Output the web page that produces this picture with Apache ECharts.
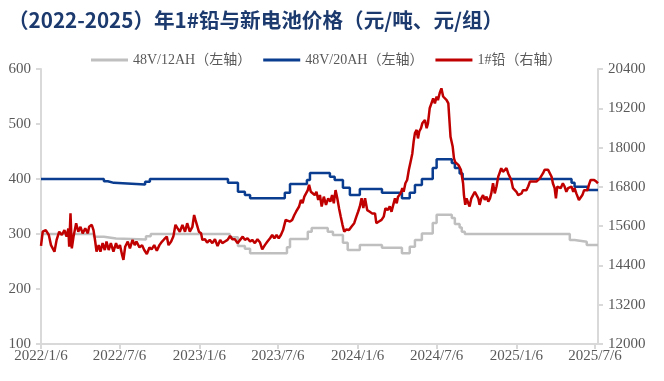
<!DOCTYPE html>
<html>
<head>
<meta charset="utf-8">
<script src="https://cdn.jsdelivr.net/npm/echarts@6/dist/echarts.min.js"></script>
<style>
html,body{margin:0;padding:0;background:#fff;}
#chart{width:664px;height:381px;}
</style>
</head>
<body>
<div id="chart"></div>
<script>
// ---- data ----
const startDay = '2022/1/6';
const endDay = '2025/7/13';
const tickLabels = ['2022/1/6','2022/7/6','2023/1/6','2023/7/6','2024/1/6','2024/7/6','2025/1/6','2025/7/6'];

const leadDates = [
'2022/1/6','2022/1/10','2022/1/17','2022/1/24','2022/1/29','2022/2/6','2022/2/11','2022/2/17','2022/2/23','2022/3/1',
'2022/3/6','2022/3/10','2022/3/12','2022/3/15','2022/3/18','2022/3/22','2022/3/28','2022/4/2','2022/4/7','2022/4/12',
'2022/4/18','2022/4/24','2022/4/27','2022/5/3','2022/5/7','2022/5/11','2022/5/14','2022/5/19','2022/5/23','2022/5/28',
'2022/6/2','2022/6/6','2022/6/11','2022/6/16','2022/6/22','2022/6/28','2022/7/2','2022/7/7','2022/7/12','2022/7/15',
'2022/7/19','2022/7/25','2022/7/30','2022/8/5','2022/8/10','2022/8/14','2022/8/21','2022/8/27','2022/9/1','2022/9/7',
'2022/9/13','2022/9/18','2022/9/24','2022/9/30','2022/10/6','2022/10/12','2022/10/17','2022/10/23','2022/10/27','2022/11/2',
'2022/11/7','2022/11/12','2022/11/17','2022/11/22','2022/11/28','2022/12/4','2022/12/9','2022/12/15','2022/12/21','2022/12/25',
'2022/12/28','2023/1/1','2023/1/5','2023/1/10','2023/1/13','2023/1/19','2023/1/24','2023/1/30','2023/2/5','2023/2/11',
'2023/2/17','2023/2/23','2023/2/28','2023/3/6','2023/3/12','2023/3/18','2023/3/23','2023/3/29','2023/4/4','2023/4/10',
'2023/4/16','2023/4/21','2023/4/27','2023/5/3','2023/5/8','2023/5/14','2023/5/20','2023/5/26','2023/5/31','2023/6/6',
'2023/6/12','2023/6/18','2023/6/23','2023/6/28','2023/7/3','2023/7/8','2023/7/13','2023/7/18','2023/7/24','2023/7/28',
'2023/8/3','2023/8/8','2023/8/13','2023/8/17','2023/8/20','2023/8/24','2023/8/28','2023/9/1','2023/9/5','2023/9/9',
'2023/9/13','2023/9/16','2023/9/20','2023/9/24','2023/9/29','2023/10/3','2023/10/7','2023/10/11','2023/10/15','2023/10/20',
'2023/10/25','2023/10/30','2023/11/4','2023/11/8','2023/11/12','2023/11/16','2023/11/20','2023/11/24','2023/11/28','2023/12/2',
'2023/12/6','2023/12/11','2023/12/17','2023/12/23','2023/12/29','2024/1/3','2024/1/7','2024/1/11','2024/1/15','2024/1/19',
'2024/1/23','2024/1/28','2024/2/3','2024/2/8','2024/2/15','2024/2/18','2024/2/24','2024/3/1','2024/3/6','2024/3/10',
'2024/3/15','2024/3/20','2024/3/24','2024/3/28','2024/4/1','2024/4/5','2024/4/8','2024/4/14','2024/4/18','2024/4/21',
'2024/4/25','2024/4/29','2024/5/3','2024/5/7','2024/5/11','2024/5/14','2024/5/17','2024/5/21','2024/5/24','2024/5/27',
'2024/5/31','2024/6/3','2024/6/6','2024/6/9','2024/6/13','2024/6/16','2024/6/20','2024/6/24','2024/6/28','2024/7/2',
'2024/7/6','2024/7/9','2024/7/13','2024/7/17','2024/7/21','2024/7/25','2024/7/29','2024/8/2','2024/8/4','2024/8/7',
'2024/8/9','2024/8/12','2024/8/15','2024/8/18','2024/8/21','2024/8/25','2024/8/28','2024/8/31','2024/9/3','2024/9/5',
'2024/9/7','2024/9/10','2024/9/13','2024/9/17','2024/9/20','2024/9/24','2024/9/28','2024/10/2','2024/10/6','2024/10/10',
'2024/10/13','2024/10/17','2024/10/21','2024/10/25','2024/10/29','2024/11/2','2024/11/6','2024/11/9','2024/11/13','2024/11/17',
'2024/11/21','2024/11/25','2024/11/29','2024/12/2','2024/12/6','2024/12/10','2024/12/14','2024/12/18','2024/12/22','2024/12/25',
'2024/12/29','2025/1/2','2025/1/6','2025/1/10','2025/1/14','2025/1/18','2025/1/21','2025/1/25','2025/1/29','2025/2/2',
'2025/2/6','2025/2/10','2025/2/13','2025/2/17','2025/2/21','2025/2/25','2025/3/1','2025/3/5','2025/3/8','2025/3/12',
'2025/3/16','2025/3/20','2025/3/24','2025/3/28','2025/3/31','2025/4/4','2025/4/7','2025/4/10','2025/4/14','2025/4/18',
'2025/4/23','2025/4/27','2025/5/1','2025/5/5','2025/5/9','2025/5/13','2025/5/17','2025/5/20','2025/5/24','2025/5/30',
'2025/6/3','2025/6/7','2025/6/11','2025/6/15','2025/6/19','2025/6/22','2025/6/26','2025/6/30','2025/7/4','2025/7/9',
'2025/7/13'
];
const leadPrices = [
15000,15430,15480,15330,15020,14820,15180,15430,15330,15480,
15280,15530,14970,15990,14920,15280,15690,15430,15580,15380,
15530,15380,15580,15640,15480,15130,14820,15020,14820,15080,
14870,15130,14870,15080,14820,15080,14920,15020,14720,14570,
14970,15130,14920,15180,15020,15130,14950,15020,14870,14750,
14950,14890,15020,14850,15020,15130,15200,15280,15020,15130,
15280,15640,15530,15430,15640,15430,15690,15430,15580,15940,
15790,15740,15430,15380,15180,15200,15100,15180,15080,15200,
14990,15180,15080,15130,15180,15300,15200,15200,15080,15180,
15280,15180,15230,15130,15180,15080,15200,15100,14890,15020,
15130,15230,15330,15230,15330,15230,15330,15480,15790,15740,
15740,15790,15940,16040,15990,16200,16400,16300,16500,16450,
16700,16860,16650,16600,16550,16650,16400,16550,16200,16500,
16250,16450,16350,16550,16300,16700,16450,16150,15890,15640,
15430,15500,15480,15590,15690,15890,16040,16200,16450,16150,
16450,16090,16040,15990,15990,15690,15740,15790,15890,16150,
16090,16200,16040,16250,16450,16300,16500,16600,16760,16650,
16910,17010,17320,17570,17820,18180,18440,18540,18280,18490,
18590,18740,18690,18840,18590,18740,19200,19350,19500,19350,
19560,19450,19660,19810,19560,19610,19450,19350,18940,18330,
18280,18030,17670,17550,17600,17470,17400,17320,17260,16910,
16550,16250,16450,16300,16200,16450,16550,16650,16600,16450,
16250,16450,16550,16400,16500,16350,16450,16600,16910,16600,
16810,17110,17260,17370,17260,17320,17370,17210,17160,17010,
16760,16700,16650,16550,16500,16600,16700,16650,16700,16810,
16960,16910,16960,16910,16960,17010,17060,17110,17210,17320,
17370,17320,17260,17110,16910,16760,16450,16810,16860,16760,
16910,16810,16650,16760,16700,16810,16650,16760,16600,16400,
16450,16550,16700,16760,16700,16860,17010,16960,17010,16960,
16910
];

const bat20Dates = ['2022/1/6','2022/5/31','2022/6/9','2022/6/23','2022/9/3','2022/9/14','2023/3/13','2023/4/5','2023/4/21','2023/5/3',
'2023/7/22','2023/8/3','2023/9/11','2023/9/18','2023/11/3','2023/11/14','2023/12/3','2023/12/19','2024/1/11','2024/3/2',
'2024/4/17','2024/5/5','2024/5/17','2024/6/2','2024/6/27','2024/7/6','2024/8/10','2024/8/17','2024/8/28','2024/9/4',
'2025/5/13','2025/5/20','2025/6/19','2025/7/13'];
const bat20Prices = [400,396,393,390,395,400,393,377,371,365,
375,391,398,411,404,398,384,371,382,375,
365,375,389,400,420,436,429,420,410,400,
393,386,380,380];

const bat12Dates = ['2022/1/6','2022/5/8','2022/5/31','2022/6/28','2022/9/5','2022/9/16','2023/3/17','2023/4/5','2023/4/21','2023/5/3',
'2023/7/27','2023/8/3','2023/9/13','2023/9/22','2023/10/29','2023/11/10','2023/12/3','2023/12/14','2024/1/11','2024/3/2',
'2024/4/17','2024/5/5','2024/5/17','2024/6/2','2024/6/27','2024/7/6','2024/8/10','2024/8/17','2024/8/28','2024/9/2',
'2024/9/9','2025/5/9','2025/5/20','2025/6/17','2025/7/13'];
const bat12Prices = [300,295,292,290,296,300,294,278,273,265,
276,291,304,311,304,298,284,271,280,275,
265,277,289,301,320,335,329,318,312,304,
300,289,286,280,280];

// ---- categories (every calendar day) ----
function buildDays(a, b) {
  const p = s => s.split('/').map(Number);
  const [y0,m0,d0] = p(a), [y1,m1,d1] = p(b);
  const out = [];
  let t = Date.UTC(y0,m0-1,d0);
  const end = Date.UTC(y1,m1-1,d1);
  while (t <= end) {
    const dt = new Date(t);
    out.push(dt.getUTCFullYear()+'/'+(dt.getUTCMonth()+1)+'/'+dt.getUTCDate());
    t += 86400000;
  }
  return out;
}
const days = buildDays(startDay, endDay);
const pair = (ds, vs) => ds.map((d,i) => [d, vs[i]]);

const serif = "'Liberation Serif','Noto Sans CJK SC',serif";
const labelColor = '#595959';
const axisColor = '#d9d9d9';

const chart = echarts.init(document.getElementById('chart'));
chart.setOption({
  animation: false,
  backgroundColor: '#fff',
  title: {
    text: '（2022-2025）年1#铅与新电池价格（元/吨、元/组）',
    left: 8, top: 10, padding: 0,
    textStyle: { fontFamily: "'Noto Sans CJK SC',sans-serif", fontWeight: 'bold', fontSize: 20.6, color: '#1c3a6e' }
  },
  legend: {
    left: 91, top: 53, padding: 0,
    itemWidth: 37, itemHeight: 3, itemGap: 12, icon: 'rect',
    textStyle: { fontFamily: serif, fontSize: 14, color: labelColor },
    data: ['48V/12AH（左轴）','48V/20AH（左轴）','1#铅（右轴）']
  },
  grid: { left: 41, right: 66, top: 69, bottom: 37, containLabel: false },
  xAxis: {
    type: 'category',
    data: days,
    boundaryGap: false,
    axisLine: { lineStyle: { color: axisColor, width: 2 } },
    axisTick: { show: true, length: 5, lineStyle: { color: axisColor, width: 2 },
      interval: (i, v) => tickLabels.indexOf(v) >= 0 },
    axisLabel: { color: labelColor, fontFamily: serif, fontSize: 15, margin: 5,
      interval: (i, v) => tickLabels.indexOf(v) >= 0 },
    splitLine: { show: false }
  },
  yAxis: [
    { type: 'value', min: 100, max: 600, interval: 100, position: 'left',
      axisLine: { show: true, lineStyle: { color: axisColor, width: 2 } },
      axisTick: { show: true, length: 5, lineStyle: { color: axisColor, width: 2 } },
      axisLabel: { color: labelColor, fontFamily: serif, fontSize: 15, margin: 10 },
      splitLine: { show: false } },
    { type: 'value', min: 12000, max: 20400, interval: 1200, position: 'right',
      axisLine: { show: true, lineStyle: { color: axisColor, width: 2 } },
      axisTick: { show: true, length: 5, lineStyle: { color: axisColor, width: 2 } },
      axisLabel: { color: labelColor, fontFamily: serif, fontSize: 15, margin: 10,
        formatter: v => String(v) },
      splitLine: { show: false } }
  ],
  series: [
    { name: '48V/12AH（左轴）', type: 'line', yAxisIndex: 0, step: 'end', showSymbol: false, symbol: 'none',
      data: pair(bat12Dates, bat12Prices), lineStyle: { color: '#bfbfbf', width: 2.5 }, itemStyle: { color: '#bfbfbf' } },
    { name: '48V/20AH（左轴）', type: 'line', yAxisIndex: 0, step: 'end', showSymbol: false, symbol: 'none',
      data: pair(bat20Dates, bat20Prices), lineStyle: { color: '#0a3d8f', width: 2.5 }, itemStyle: { color: '#0a3d8f' } },
    { name: '1#铅（右轴）', type: 'line', yAxisIndex: 1, showSymbol: false, symbol: 'none',
      data: pair(leadDates, leadPrices), lineStyle: { color: '#c00000', width: 2.5 }, itemStyle: { color: '#c00000' } }
  ]
});
</script>
</body>
</html>
